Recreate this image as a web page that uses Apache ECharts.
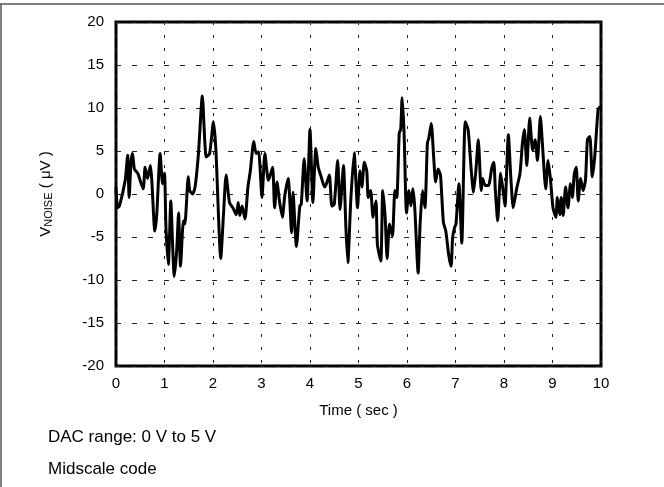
<!DOCTYPE html>
<html>
<head>
<meta charset="utf-8">
<script src="https://cdn.jsdelivr.net/npm/echarts@6/dist/echarts.min.js"></script>
<style>
  html, body { margin: 0; padding: 0; background: #fff; }
  #chart { width: 664px; height: 487px; }
</style>
</head>
<body>
<div id="chart"></div>
<script>
// noise trace (time in sec, noise in uV)
var times = [0, 0.03, 0.07, 0.19, 0.24, 0.27, 0.31, 0.34, 0.38, 0.45, 0.56, 0.6, 0.65, 0.71, 0.74, 0.8, 0.84, 0.91, 0.96, 1.0,
    1.03, 1.08, 1.13, 1.17, 1.2, 1.25, 1.29, 1.33, 1.39, 1.42, 1.49, 1.52, 1.58, 1.63, 1.7, 1.78, 1.86, 1.93, 2.01, 2.06,
    2.16, 2.22, 2.27, 2.34, 2.41, 2.48, 2.52, 2.55, 2.6, 2.66, 2.72, 2.77, 2.84, 2.89, 2.94, 3.01, 3.07, 3.14, 3.17, 3.23,
    3.27, 3.32, 3.37, 3.43, 3.48, 3.55, 3.62, 3.65, 3.72, 3.79, 3.82, 3.88, 3.94, 4.0, 4.06, 4.12, 4.17, 4.23, 4.3, 4.34,
    4.4, 4.45, 4.5, 4.57, 4.62, 4.69, 4.74, 4.78, 4.84, 4.91, 4.98, 5.03, 5.07, 5.12, 5.17, 5.2, 5.25, 5.3, 5.36, 5.39,
    5.46, 5.5, 5.55, 5.59, 5.64, 5.7, 5.75, 5.79, 5.84, 5.87, 5.9, 5.94, 5.99, 6.04, 6.08, 6.12, 6.16, 6.23, 6.27, 6.32,
    6.37, 6.42, 6.45, 6.5, 6.55, 6.59, 6.64, 6.69, 6.75, 6.8, 6.86, 6.91, 6.94, 6.98, 7.01, 7.07, 7.13, 7.2, 7.26, 7.32,
    7.37, 7.42, 7.47, 7.53, 7.56, 7.61, 7.68, 7.75, 7.79, 7.82, 7.87, 7.93, 7.99, 8.02, 8.09, 8.14, 8.19, 8.26, 8.33, 8.38,
    8.42, 8.47, 8.53, 8.59, 8.64, 8.69, 8.75, 8.8, 8.86, 8.91, 8.96, 9.01, 9.07, 9.1, 9.15, 9.18, 9.22, 9.27, 9.32, 9.37,
    9.41, 9.45, 9.49, 9.53, 9.58, 9.63, 9.68, 9.72, 9.77, 9.82, 9.87, 9.94, 9.98];
var noise = [0.8, -1.6, -1.4, 1.6, 4.5, -0.4, 3.7, 4.7, 2.9, 2.4, 0.6, 3.1, 1.8, 3.3, 1.4, -4.3, -2.4, 4.7, 1.2, 2.4,
    -3.9, -8.2, -0.8, -6.3, -9.6, -6.7, -2.2, -8.4, -3.1, -3.5, 2.0, 0.4, 0, 0.8, 4.7, 11.4, 4.3, 4.7, 8.4, 5.1,
    -7.5, -2.0, 2.2, -1.0, -1.6, -2.4, -1.0, -2.5, -1.4, -2.9, 0.8, 2.7, 6.1, 4.7, 4.9, -0.4, 4.7, 1.6, 2.0, 3.1,
    -1.6, 1.4, -0.8, -2.7, -0.2, 1.8, -4.5, 0.2, -6.1, -1.4, -1.2, 4.1, -0.8, 7.5, -1.0, 5.3, 3.1, 2.0, 0.8, 1.2,
    2.2, -1.4, -1.2, 3.9, -1.8, 3.3, -3.9, -8.0, -0.8, 4.8, -1.6, 2.7, 0.8, 3.7, 2.7, -0.4, 0.4, -2.7, -0.8, -5.9,
    -7.8, 0.4, -2.7, -7.5, -3.5, -4.9, 0.4, -0.4, 7.1, 7.5, 11.2, 7.1, -2.2, 0.4, -1.4, 0.6, -1.6, -9.2, -3.5, 0.4,
    -1.6, 5.9, 6.5, 8.2, 4.3, 1.4, 2.9, 2.2, -3.3, -4.3, -7.1, -8.4, -5.1, -3.9, -3.5, 1.2, -5.7, 8.4, 7.5, 3.1,
    0.2, 2.7, 6.3, 0.4, 1.8, 1.0, 1.0, 3.1, 3.7, 0.6, -3.1, 2.4, 0, -1.4, 6.9, 2.0, -1.6, 0.6, 2.4, 5.9,
    7.5, 3.3, 8.8, 5.1, 6.3, 3.9, 9.0, 5.1, 0.6, 3.9, 1.6, -1.6, -2.7, -0.4, -2.4, -0.4, -2.5, 0.8, -1.6, 1.2,
    -0.4, 2.4, 3.1, -0.8, 1.8, 0.4, 1.6, 6.3, 6.7, 2.0, 4.3, 9.8, 10.2];
var xTicks = [0, 1, 2, 3, 4, 5, 6, 7, 8, 9, 10];
var yTicks = [-20, -15, -10, -5, 0, 5, 10, 15, 20];

var points = [];
for (var i = 0; i < times.length; i++) {
    points.push([times[i], noise[i]]);
}

var font = '"Liberation Sans", Arial, sans-serif';
var myChart = echarts.init(document.getElementById('chart'), null, { renderer: 'canvas' });
var option = {
    backgroundColor: '#fff',
    animation: false,
    grid: {
        left: 116,
        right: 63,
        top: 22,
        bottom: 121,
        show: true,
        borderColor: '#000',
        borderWidth: 3,
        backgroundColor: 'transparent'
    },
    xAxis: {
        type: 'value',
        min: xTicks[0],
        max: xTicks[xTicks.length - 1],
        interval: 1,
        name: 'Time ( sec )',
        nameLocation: 'middle',
        nameGap: 37,
        nameTextStyle: { fontFamily: font, fontSize: 15, color: '#000' },
        axisLine: { show: false },
        axisTick: { show: false },
        axisLabel: { fontFamily: font, fontSize: 15, color: '#000', margin: 10 },
        splitLine: {
            show: true,
            lineStyle: { color: '#222', width: 1, type: [3, 10] }
        }
    },
    yAxis: {
        type: 'value',
        min: yTicks[0],
        max: yTicks[yTicks.length - 1],
        interval: 5,
        name: '{n|V}{sub|NOISE}{n| ( μV )}',
        nameLocation: 'middle',
        nameGap: 62,
        nameRotate: 90,
        nameTextStyle: {
            rich: {
                n: { fontFamily: font, fontSize: 15, color: '#000' },
                sub: { fontFamily: font, fontSize: 11, color: '#000', padding: [6, 0, 0, 0] }
            }
        },
        axisLine: { show: false },
        axisTick: { show: false },
        axisLabel: { fontFamily: font, fontSize: 15, color: '#000', margin: 12 },
        splitLine: {
            show: true,
            lineStyle: { color: '#222', width: 1, type: [5, 11] }
        }
    },
    series: [{
        type: 'line',
        data: points,
        showSymbol: false,
        smooth: 0.2,
        lineStyle: { color: '#000', width: 3, join: 'round' }
    }],
    graphic: [
        { type: 'line', shape: { x1: 0, y1: 4, x2: 664, y2: 4 }, style: { stroke: '#555', lineWidth: 1.5 } },
        { type: 'line', shape: { x1: 1, y1: 4, x2: 1, y2: 487 }, style: { stroke: '#555', lineWidth: 1.5 } },
        { type: 'text', left: 48, top: 429, style: { text: 'DAC range: 0 V to 5 V', fontFamily: font, fontSize: 17, fill: '#000' } },
        { type: 'text', left: 48, top: 461, style: { text: 'Midscale code', fontFamily: font, fontSize: 17, fill: '#000' } }
    ]
};
myChart.setOption(option);
</script>
</body>
</html>
